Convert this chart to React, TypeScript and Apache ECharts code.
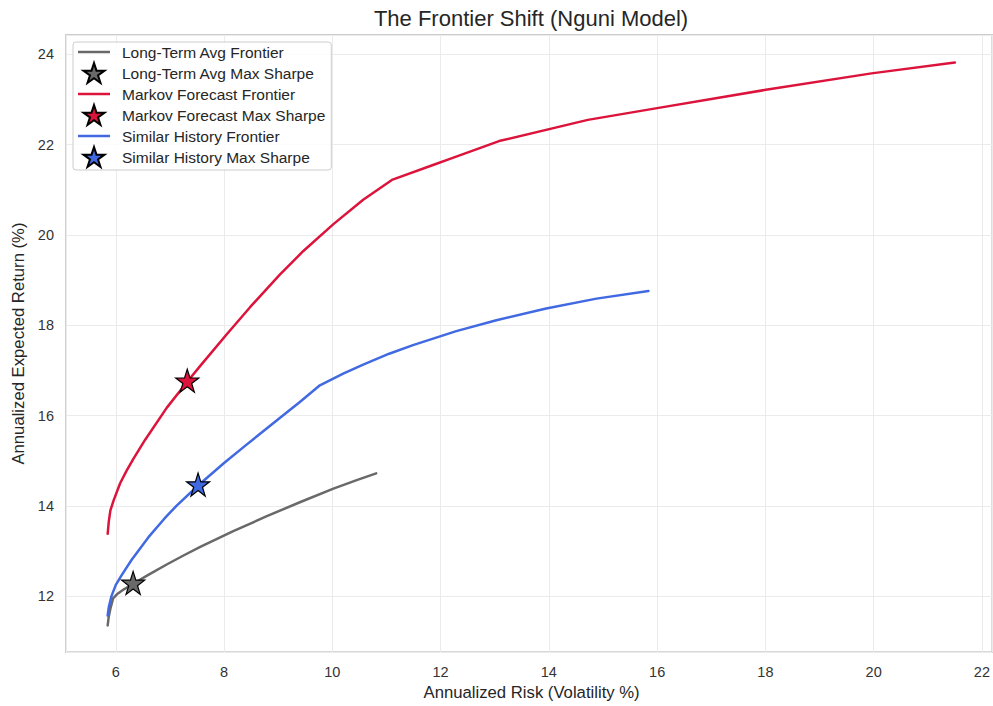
import React, { useEffect, useRef } from "react";
import * as echarts from "echarts";

// Long-Term Avg frontier
const ltaRisk = [5.85, 5.87, 5.9, 5.95, 6.02, 6.15, 6.33, 6.6, 6.94, 7.25, 7.56, 8.17, 8.79, 9.4, 10.02, 10.45, 10.81];
const ltaReturn = [11.35, 11.55, 11.72, 11.95, 12.04, 12.15, 12.28, 12.47, 12.7, 12.9, 13.09, 13.44, 13.77, 14.08, 14.38, 14.57, 14.72];
const ltaStar = [6.32, 12.27];

// Markov Forecast frontier
const mkvRisk = [5.85, 5.87, 5.9, 5.96, 6.08, 6.2, 6.33, 6.54, 6.94, 7.32, 7.56, 8.05, 8.48, 9.03, 9.46, 10.02, 10.57, 11.1, 11.86, 12.16, 13.08, 14.72, 16.0, 17.98, 19.96, 21.5];
const mkvReturn = [13.38, 13.65, 13.9, 14.12, 14.5, 14.78, 15.05, 15.46, 16.17, 16.75, 17.1, 17.8, 18.4, 19.12, 19.64, 20.24, 20.78, 21.22, 21.55, 21.68, 22.08, 22.55, 22.81, 23.21, 23.58, 23.82];
const mkvStar = [7.32, 16.75];

// Similar History frontier
const simRisk = [5.85, 5.87, 5.92, 6.0, 6.1, 6.29, 6.6, 6.9, 7.12, 7.52, 8.0, 8.41, 9.0, 9.4, 9.77, 10.2, 10.57, 11.05, 11.49, 12.29, 13.03, 13.95, 14.88, 15.84];
const simReturn = [11.57, 11.75, 12.0, 12.25, 12.45, 12.8, 13.3, 13.72, 14.0, 14.45, 14.95, 15.35, 15.92, 16.3, 16.67, 16.93, 17.13, 17.37, 17.56, 17.87, 18.11, 18.37, 18.59, 18.76];
const simStar = [7.52, 14.45];

const seriesNames = [
  "Long-Term Avg Frontier",
  "Long-Term Avg Max Sharpe",
  "Markov Forecast Frontier",
  "Markov Forecast Max Sharpe",
  "Similar History Frontier",
  "Similar History Max Sharpe",
];

const titleText = "The Frontier Shift (Nguni Model)";
const xAxisName = "Annualized Risk (Volatility %)";
const yAxisName = "Annualized Expected Return (%)";

const STAR =
  "path://M100,0 L77.55,69.1 L4.89,69.1 L63.67,111.8 L41.22,180.9 L100,138.2 L158.78,180.9 L136.33,111.8 L195.11,69.1 L122.45,69.1 Z";
const LINE_ICON = "path://M0,0 L32,0 L32,2.5 L0,2.5 Z";

const zip = (xs: number[], ys: number[]) => xs.map((x, i) => [x, ys[i]]);

const FONT = "'Liberation Sans', Arial, Helvetica, sans-serif";

export default function App() {
  const ref = useRef<HTMLDivElement>(null);
  useEffect(() => {
    if (!ref.current) return;
    const chart = echarts.init(ref.current, undefined, { renderer: "svg" });
    const evenLabel = (v: number) => {
      const r = Math.round(v);
      return Math.abs(v - r) < 1e-6 && r % 2 === 0 ? String(r) : "";
    };
    const lineSeries = (name: string, data: number[][], color: string) => ({
      name,
      type: "line",
      data,
      symbol: "none",
      showSymbol: false,
      smooth: false,
      lineStyle: { color, width: 2.5, join: "round", cap: "round" },
      itemStyle: { color },
      z: 2,
    });
    const starSeries = (name: string, pt: number[], color: string) => ({
      name,
      type: "scatter",
      data: [pt],
      symbol: STAR,
      symbolSize: 23,
      symbolOffset: [0, -1],
      itemStyle: { color, borderColor: "#000000", borderWidth: 1.2, opacity: 1 },
      z: 5,
    });
    chart.setOption({
      animation: false,
      backgroundColor: "#ffffff",
      textStyle: { fontFamily: FONT },
      graphic: [
        {
          type: "text",
          x: 531,
          y: 18,
          style: {
            text: titleText,
            fontSize: 22,
            fontFamily: FONT,
            fill: "#262626",
            align: "center",
            verticalAlign: "middle",
          },
        },
      ],
      grid: {
        left: 66,
        top: 35,
        right: 0,
        bottom: 53,
        show: true,
        borderColor: "#cccccc",
        borderWidth: 1.8,
        backgroundColor: "transparent",
        containLabel: false,
      },
      legend: {
        orient: "vertical",
        left: 73,
        top: 42,
        padding: [2, 6, 2, 5],
        itemWidth: 32,
        itemHeight: 20,
        itemGap: 2,
        backgroundColor: "rgba(255,255,255,0.85)",
        borderColor: "#cccccc",
        borderWidth: 1,
        borderRadius: 3,
        symbolKeepAspect: true,
        textStyle: { fontSize: 15.5, color: "#262626", fontFamily: FONT, padding: [0, 0, 0, 7] },
        data: seriesNames.map((name, i) => (i % 2 === 0 ? { name, icon: LINE_ICON } : { name })),
      },
      xAxis: {
        type: "value",
        min: 5.08,
        max: 22.19,
        splitNumber: 8,
        name: xAxisName,
        nameLocation: "middle",
        nameGap: 30,
        nameTextStyle: { fontSize: 16.7, color: "#262626", fontFamily: FONT, padding: [0, 0, 0, 5] },
        axisLine: { show: false },
        axisTick: { show: false },
        axisLabel: {
          fontSize: 14.5,
          color: "#333333",
          margin: 12,
          formatter: evenLabel,
          showMinLabel: false,
          showMaxLabel: false,
        },
        splitLine: { show: true, lineStyle: { color: "#ebebeb", width: 1 } },
      },
      yAxis: {
        type: "value",
        min: 10.76,
        max: 24.43,
        splitNumber: 7,
        name: yAxisName,
        nameLocation: "middle",
        nameGap: 38,
        nameTextStyle: { fontSize: 16.7, color: "#262626", fontFamily: FONT },
        axisLine: { show: false },
        axisTick: { show: false },
        axisLabel: {
          fontSize: 14.5,
          color: "#333333",
          margin: 12,
          formatter: evenLabel,
          showMinLabel: false,
          showMaxLabel: false,
        },
        splitLine: { show: true, lineStyle: { color: "#ebebeb", width: 1 } },
      },
      series: [
        lineSeries(seriesNames[0], zip(ltaRisk, ltaReturn), "#696969"),
        starSeries(seriesNames[1], ltaStar, "#696969"),
        lineSeries(seriesNames[2], zip(mkvRisk, mkvReturn), "#DC143C"),
        starSeries(seriesNames[3], mkvStar, "#DC143C"),
        lineSeries(seriesNames[4], zip(simRisk, simReturn), "#4169E1"),
        starSeries(seriesNames[5], simStar, "#4169E1"),
      ],
    });
    return () => chart.dispose();
  }, []);
  return (
    <div
      ref={ref}
      style={{ position: "fixed", left: 0, top: 0, width: 993, height: 706 }}
    />
  );
}
